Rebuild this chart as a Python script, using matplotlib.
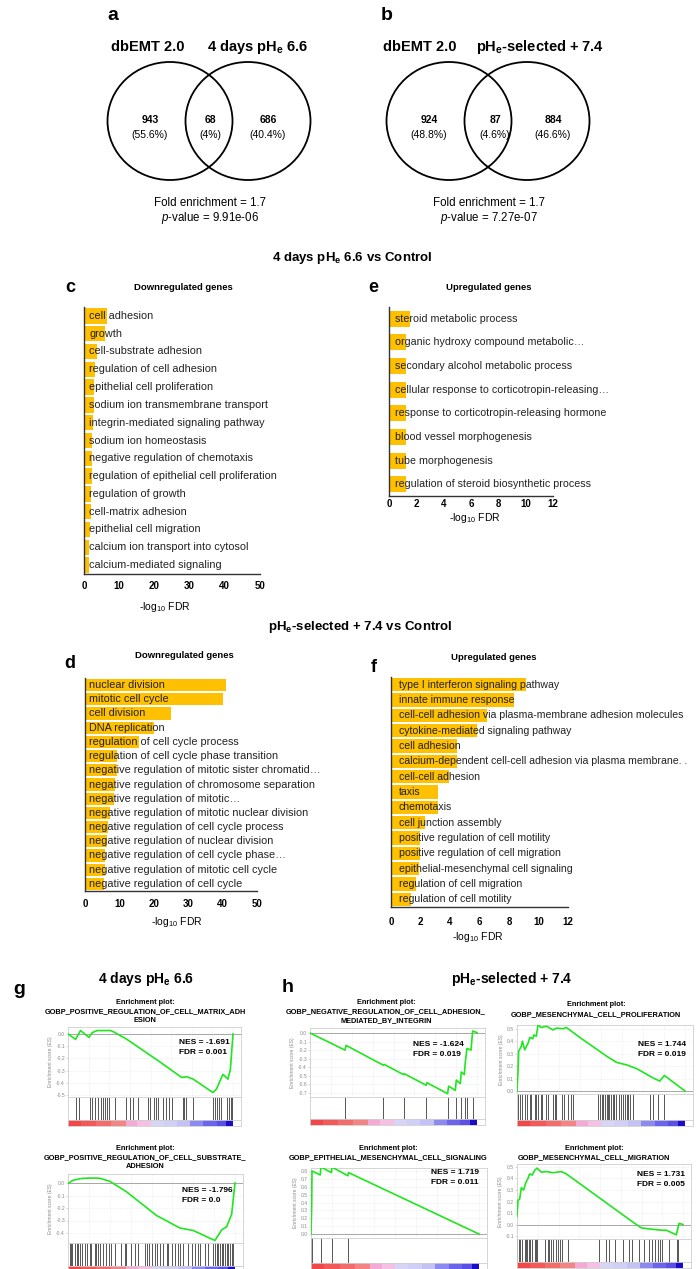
import numpy as np
import matplotlib
matplotlib.use("Agg")
import matplotlib.pyplot as plt
from matplotlib.patches import Ellipse

plt.rcParams['font.family'] = ['Liberation Sans', 'DejaVu Sans']
plt.rcParams['mathtext.fontset'] = 'custom'
plt.rcParams['mathtext.rm'] = 'Liberation Sans'
plt.rcParams['mathtext.it'] = 'Liberation Sans:italic'
plt.rcParams['mathtext.bf'] = 'Liberation Sans:bold'
plt.rcParams['mathtext.sf'] = 'Liberation Sans'

# ---------------- data ----------------
venn_a_counts = [943, 68, 686]
venn_a_pcts = ["(55.6%)", "(4%)", "(40.4%)"]
venn_a_sets = ["dbEMT 2.0", r"4 days pH$_\mathbf{e}$ 6.6"]
venn_a_stats = ["Fold enrichment = 1.7", r"$\mathit{p}$-value = 9.91e-06"]
venn_b_counts = [924, 87, 884]
venn_b_pcts = ["(48.8%)", "(4.6%)", "(46.6%)"]
venn_b_sets = ["dbEMT 2.0", r"pH$_\mathbf{e}$-selected + 7.4"]
venn_b_stats = ["Fold enrichment = 1.7", r"$\mathit{p}$-value = 7.27e-07"]

c_terms = ["cell adhesion", "growth", "cell-substrate adhesion", "regulation of cell adhesion",
           "epithelial cell proliferation", "sodium ion transmembrane transport",
           "integrin-mediated signaling pathway", "sodium ion homeostasis",
           "negative regulation of chemotaxis", "regulation of epithelial cell proliferation",
           "regulation of growth", "cell-matrix adhesion", "epithelial cell migration",
           "calcium ion transport into cytosol", "calcium-mediated signaling"]
c_vals = [6.4, 6.0, 3.6, 3.1, 2.7, 2.7, 2.5, 2.4, 2.3, 2.2, 2.0, 1.9, 1.7, 1.5, 1.3]

e_terms = ["steroid metabolic process", "organic hydroxy compound metabolic\u2026",
           "secondary alcohol metabolic process", "cellular response to corticotropin-releasing\u2026",
           "response to corticotropin-releasing hormone", "blood vessel morphogenesis",
           "tube morphogenesis", "regulation of steroid biosynthetic process"]
e_vals = [1.57, 1.27, 1.27, 1.27, 1.27, 1.27, 1.27, 1.27]

d_terms = ["nuclear division", "mitotic cell cycle", "cell division", "DNA replication",
           "regulation of cell cycle process", "regulation of cell cycle phase transition",
           "negative regulation of mitotic sister chromatid\u2026",
           "negative regulation of chromosome separation", "negative regulation of mitotic\u2026",
           "negative regulation of mitotic nuclear division",
           "negative regulation of cell cycle process", "negative regulation of nuclear division",
           "negative regulation of cell cycle phase\u2026", "negative regulation of mitotic cell cycle",
           "negative regulation of cell cycle"]
d_vals = [41.1, 40.1, 25.0, 20.1, 15.7, 9.4, 9.2, 8.8, 8.4, 7.3, 6.6, 6.3, 5.8, 5.7, 5.5]

f_terms = ["type I interferon signaling pathway", "innate immune response",
           "cell-cell adhesion via plasma-membrane adhesion molecules",
           "cytokine-mediated signaling pathway", "cell adhesion",
           "calcium-dependent cell-cell adhesion via plasma membrane. .", "cell-cell adhesion",
           "taxis", "chemotaxis", "cell junction assembly", "positive regulation of cell motility",
           "positive regulation of cell migration", "epithelial-mesenchymal cell signaling",
           "regulation of cell migration", "regulation of cell motility"]
f_vals = [9.12, 8.33, 6.49, 5.81, 4.5, 4.46, 3.9, 3.22, 3.22, 2.32, 1.98, 1.98, 1.91, 1.71, 1.37]

# GSEA running enrichment scores (rank position in % of list, ES)
g1_x = [0, 4.6, 7.6, 12.7, 14.7, 17.7, 25.7, 27.7, 35.7, 55.8, 68.9, 71.9, 75.9, 87.9, 90, 93.9, 96.9, 98.4, 100]
g1_y = [0, -0.044, 0.028, -0.028, 0.011, 0.028, 0.028, 0.017, -0.044, -0.23, -0.356, -0.35, -0.37, -0.48, -0.45, -0.33, -0.37, -0.29, 0.0]
g1_hits = [5.0, 6.8, 13.1, 14.5, 16.5, 18.1, 20.1, 21.5, 22.5, 23.9, 25.0, 28.6, 35.2, 37.6, 39.6,
           42.7, 48.7, 49.7, 52.1, 53.3, 54.7, 57.3, 59.2, 61.2, 63.2, 69.4, 70.4, 71.4, 75.9,
           87.9, 88.9, 90.5, 91.5, 92.9, 96.6, 97.6, 98.6, 99.4]

g2_x = [0, 3, 8, 13, 19, 25, 35, 53, 67, 75, 88, 92, 95, 98, 100]
g2_y = [-0.005, 0.022, 0.036, 0.04, 0.038, 0.014, -0.07, -0.26, -0.36, -0.38, -0.46, -0.375, -0.35, -0.25, 0.0]
g2_hits = [1, 2, 2.6, 4, 5.4, 6, 7, 8.6, 10, 11.4, 13, 14, 16, 17, 18, 19, 21, 23, 24.6, 26, 28,
           32, 34, 35, 38, 40, 42, 46, 47.4, 48.6, 50, 52, 53, 55, 57, 59, 60, 62, 64, 66, 67,
           69, 72, 74, 76, 78, 79, 82, 84, 87, 88, 89, 90, 91, 92, 93, 94, 95, 96, 97, 98, 99]

h1_x = [0, 21, 21.6, 44, 44.4, 56, 56.4, 69.6, 70, 82.4, 83, 87, 87.6, 90, 90.6, 92.4, 93, 94, 96.4, 97.4, 100]
h1_y = [0, -0.20, -0.145, -0.377, -0.366, -0.486, -0.475, -0.61, -0.58, -0.708, -0.62, -0.67,
        -0.55, -0.59, -0.455, -0.486, -0.34, -0.18, -0.2, 0.023, 0.004]
h1_hits = [21, 44, 56, 69.6, 82.4, 87.6, 90.6, 92.6, 94, 97.4]

h2_x = [0, 0.6, 1, 2.6, 3.2, 4.6, 6.6, 7.6, 9.5, 10, 11.5, 12.5, 14.5, 17.5, 21.5, 23.5, 27.4,
        29.4, 35.4, 37.4, 53.3, 59.2, 65.2, 71.2, 79, 81, 85, 87.7, 100]
h2_y = [0, 0.16, 0.32, 0.36, 0.4, 0.33, 0.385, 0.43, 0.42, 0.45, 0.44, 0.53, 0.51, 0.52, 0.49,
        0.505, 0.5, 0.51, 0.45, 0.43, 0.28, 0.23, 0.21, 0.18, 0.12, 0.105, 0.08, 0.125, 0.0]
h2_hits = [0.6, 2.0, 3.2, 5.0, 6.2, 7.6, 8.5, 11.0, 11.5, 12.5, 14.5, 14.9, 17.5, 18.5, 21.5,
           22.5, 23.5, 27.0, 27.8, 30.4, 32.4, 33.4, 48.3, 49.3, 50.3, 51.3, 52.3, 53.3, 54.3,
           54.9, 55.7, 56.9, 57.7, 58.9, 60.8, 62.2, 63.2, 64.2, 65.2, 66.2, 67.2, 69.2, 79.1,
           81.1, 84.1, 87.5]

h3_x = [0, 0.4, 0.6, 5.5, 5.9, 12.1, 12.5, 21.9, 22.3, 100]
h3_y = [0, 0.34, 0.8, 0.75, 0.85, 0.78, 0.85, 0.74, 0.78, 0.0]
h3_hits = [0.2, 0.6, 5.7, 12.3, 22.1]

h4_x = [0, 0.6, 1.6, 2.6, 4, 5.2, 6.6, 7.6, 9.2, 10.6, 12, 14.7, 17.7, 21.7, 26.7, 29.7, 69.9,
        74.9, 80.9, 86.9, 90, 96, 97.6, 100]
h4_y = [0.07, 0.21, 0.22, 0.32, 0.3, 0.36, 0.4, 0.44, 0.43, 0.47, 0.49, 0.455, 0.46, 0.45, 0.46,
        0.44, 0.02, -0.03, -0.04, -0.05, -0.05, -0.09, 0.01, 0.0]
h4_hits = [0.2, 1.0, 2.0, 3.2, 4.6, 5.2, 6.0, 7.2, 8.0, 9.2, 10.6, 11.6, 12.2, 17.1, 18.5, 19.5,
           20.5, 21.5, 23.5, 24.5, 25.9, 27.1, 30.5, 49.6, 53.6, 55.2, 59.2, 63.6, 67.6, 69.2,
           73.2, 76.6, 79.6, 81.6, 83.2, 85.2, 86.0, 87.2, 91.6, 96.6, 97.2]

cb_edges = [0, 8, 17, 26, 35, 42, 50, 58, 66, 74, 82, 90, 96, 100]
cb_colors = ['#f04848', '#f25a5a', '#f26c6c', '#f48484', '#f5aad6', '#f5c0e4', '#d8d4f6',
             '#cfcff8', '#c2c2f4', '#8c8af0', '#6c64ea', '#5a50e6', '#1a0cc8']

# ---------------- figure ----------------
W, H = 697, 1269
fig = plt.figure(figsize=(W / 100, H / 100), dpi=100)


def px_axes(l, t, r, b):
    return fig.add_axes([l / W, 1 - b / H, (r - l) / W, (b - t) / H])


BAR = '#FFC000'


def bar_panel(box, terms, vals, xmax, xticks, height, text_x, fs, pad):
    ax = px_axes(*box)
    y = np.arange(len(terms))
    ax.barh(y, vals, height=height, color=BAR, zorder=1)
    for yi, t in zip(y, terms):
        ax.text(text_x, yi, t, va='center', ha='left', fontsize=fs, color='#222222', zorder=3)
    ax.set_ylim(len(terms) - 0.5, -0.5)
    ax.set_xlim(0, xmax)
    ax.set_yticks([])
    ax.set_xticks(xticks)
    ax.set_xticklabels([str(v) for v in xticks], fontsize=7, fontweight='bold')
    ax.tick_params(axis='x', length=0, pad=pad)
    for s in ['top', 'right']:
        ax.spines[s].set_visible(False)
    for s in ['left', 'bottom']:
        ax.spines[s].set_color('#333333')
        ax.spines[s].set_linewidth(1.0)
    ax.set_facecolor('none')
    return ax


bar_panel((84, 307, 260, 574), c_terms, c_vals, 50, [0, 10, 20, 30, 40, 50], 0.86, 1.5, 7.8, 5)
bar_panel((389, 307, 553, 496), e_terms, e_vals, 12, [0, 2, 4, 6, 8, 10, 12], 0.68, 0.42, 7.7, 2.5)
bar_panel((85, 678, 257, 891), d_terms, d_vals, 50, [0, 10, 20, 30, 40, 50], 0.86, 1.25, 7.8, 6)
bar_panel((391, 677, 568, 907), f_terms, f_vals, 12, [0, 2, 4, 6, 8, 10, 12], 0.88, 0.52, 7.6, 7)

GRAY = '#8a8a8a'


def gsea(l, end100, t, es_b, hit_b, cb_b, ylim, yticks, xs, es, hits):
    r = l + (end100 - l) * 1.05
    ax1 = px_axes(l, t, r, es_b)
    ax1.plot(xs, es, color='#1fe61f', lw=1.2, zorder=3)
    ax1.axhline(0, color='#9a9a9a', lw=0.6, zorder=2)
    ax1.set_xlim(0, 105)
    ax1.set_ylim(*ylim)
    ax1.set_yticks(yticks)
    ax1.set_yticklabels(['%.1f' % v for v in yticks], fontsize=3.6, color=GRAY)
    ax1.set_xticks([0, 12.5, 25, 37.5, 50, 62.5, 75, 87.5, 100])
    ax1.set_xticklabels([])
    ax1.tick_params(length=1.2, width=0.4, color='#bbbbbb', pad=1)
    ax1.tick_params(axis='x', length=0)
    ax1.grid(True, color='#dddddd', lw=0.4, ls=':')
    ax1.set_ylabel('Enrichment score (ES)', fontsize=3.6, color=GRAY, labelpad=2)
    ax2 = px_axes(l, es_b, r, hit_b)
    ax2.vlines(hits, 0, 1, color='#3a3a3a', lw=0.6)
    ax2.set_xlim(0, 105)
    ax2.set_ylim(0, 1)
    ax3 = px_axes(l, hit_b, r, cb_b)
    segs = [(cb_edges[i], cb_edges[i + 1] - cb_edges[i]) for i in range(len(cb_colors))]
    ax3.broken_barh(segs, (0, 1), facecolors=cb_colors)
    ax3.set_xlim(0, 105)
    ax3.set_ylim(0, 1)
    for a in (ax1, ax2, ax3):
        for s in a.spines.values():
            s.set_color('#cfcfcf')
            s.set_linewidth(0.6)
    for a in (ax2, ax3):
        a.set_xticks([])
        a.set_yticks([])
    return ax1


gsea(68, 233, 1027, 1097, 1120, 1126, (-0.516, 0.057), [0.0, -0.1, -0.2, -0.3, -0.4, -0.5], g1_x, g1_y, g1_hits)
gsea(68, 235, 1174, 1243, 1266, 1272, (-0.48, 0.072), [0.0, -0.1, -0.2, -0.3, -0.4], g2_x, g2_y, g2_hits)
gsea(310, 477, 1028, 1097, 1119, 1125, (-0.747, 0.058), [0.0, -0.1, -0.2, -0.3, -0.4, -0.5, -0.6, -0.7], h1_x, h1_y, h1_hits)
gsea(517, 685, 1025, 1094, 1120, 1126, (-0.024, 0.53), [0.0, 0.1, 0.2, 0.3, 0.4, 0.5], h2_x, h2_y, h2_hits)
gsea(311, 479, 1168, 1238, 1263, 1269, (-0.05, 0.838), [0.0, 0.1, 0.2, 0.3, 0.4, 0.5, 0.6, 0.7, 0.8], h3_x, h3_y, h3_hits)
gsea(517, 683, 1164, 1239, 1262, 1268, (-0.126, 0.526), [-0.1, 0.0, 0.1, 0.2, 0.3, 0.4, 0.5], h4_x, h4_y, h4_hits)

# ---------------- overlay (text and Venn) ----------------
ov = fig.add_axes([0, 0, 1, 1])
ov.set_xlim(0, W)
ov.set_ylim(H, 0)
ov.axis('off')
ov.patch.set_alpha(0)


def T(x, y, s, fs, bold=False, ha='center', style='normal'):
    ov.text(x, y, s, fontsize=fs, fontweight='bold' if bold else 'normal', ha=ha, va='center',
            fontstyle=style, color='black')


def venn(dx, sets, set_x, counts, pcts, num_x, stats, stat_x):
    for cx in (170 + dx, 248 + dx):
        ov.add_patch(Ellipse((cx, 121), 125, 118, fill=False, lw=1.3, ec='black'))
    for sx, s in zip(set_x, sets):
        T(sx, 47, s, 10.5, bold=True)
    for nx, c, p in zip(num_x, counts, pcts):
        T(nx, 120, str(c), 7.5, bold=True)
        T(nx, 135, p, 7.5)
    T(stat_x, 203, stats[0], 8.3)
    T(stat_x, 218, stats[1], 8.3)


venn(0, venn_a_sets, [148, 258], venn_a_counts, venn_a_pcts, [150, 210, 268], venn_a_stats, 210)
venn(279, venn_b_sets, [420, 540], venn_b_counts, venn_b_pcts, [429, 495, 553], venn_b_stats, 489)

# panel letters
T(113, 16, 'a', 14, bold=True)
T(387, 16, 'b', 14, bold=True)
T(70, 288, 'c', 13, bold=True)
T(373, 288, 'e', 13, bold=True)
T(70, 664, 'd', 13, bold=True)
T(374, 668, 'f', 13, bold=True)
T(19, 990, 'g', 14, bold=True)
T(288, 988, 'h', 14, bold=True)

# section titles
T(352, 258, r"4 days pH$_\mathbf{e}$ 6.6 vs Control", 9.5, bold=True)
T(360, 627, r"pH$_\mathbf{e}$-selected + 7.4 vs Control", 9.5, bold=True)
T(183, 287, "Downregulated genes", 6.8, bold=True)
T(489, 287, "Upregulated genes", 6.8, bold=True)
T(184, 656, "Downregulated genes", 6.8, bold=True)
T(494, 657, "Upregulated genes", 6.8, bold=True)

XL = r"-log$_\mathrm{10}$ FDR"
T(165, 607, XL, 7.5)
T(475, 518, XL, 7.5)
T(177, 922, XL, 7.5)
T(478, 937, XL, 7.5)

T(146, 979, r"4 days pH$_\mathbf{e}$ 6.6", 10, bold=True)
T(512, 979, r"pH$_\mathbf{e}$-selected + 7.4", 10, bold=True)

# GSEA titles
GT = 5.3
for cx, y0, lines in [
        (145, 1002, ["Enrichment plot:", "GOBP_POSITIVE_REGULATION_OF_CELL_MATRIX_ADH", "ESION"]),
        (145, 1148, ["Enrichment plot:", "GOBP_POSITIVE_REGULATION_OF_CELL_SUBSTRATE_", "ADHESION"]),
        (386, 1002, ["Enrichment plot:", "GOBP_NEGATIVE_REGULATION_OF_CELL_ADHESION_", "MEDIATED_BY_INTEGRIN"]),
        (596, 1005, ["Enrichment plot:", "GOBP_MESENCHYMAL_CELL_PROLIFERATION"]),
        (388, 1148, ["Enrichment plot:", "GOBP_EPITHELIAL_MESENCHYMAL_CELL_SIGNALING"]),
        (594, 1148, ["Enrichment plot:", "GOBP_MESENCHYMAL_CELL_MIGRATION"])]:
    for i, s in enumerate(lines):
        T(cx, y0 + i * 9.5, s, GT, bold=True)

for x, y, nes, fdr in [(179, 1042, "NES = -1.691", "FDR = 0.001"),
                       (182, 1191, "NES = -1.796", "FDR = 0.0"),
                       (413, 1045, "NES = -1.624", "FDR = 0.019"),
                       (638, 1044, "NES = 1.744", "FDR = 0.019"),
                       (431, 1173, "NES = 1.719", "FDR = 0.011"),
                       (637, 1174, "NES = 1.731", "FDR = 0.005")]:
    T(x, y, nes, 6.0, bold=True, ha='left')
    T(x, y + 10, fdr, 6.0, bold=True, ha='left')

fig.savefig("out.png", dpi=100)
